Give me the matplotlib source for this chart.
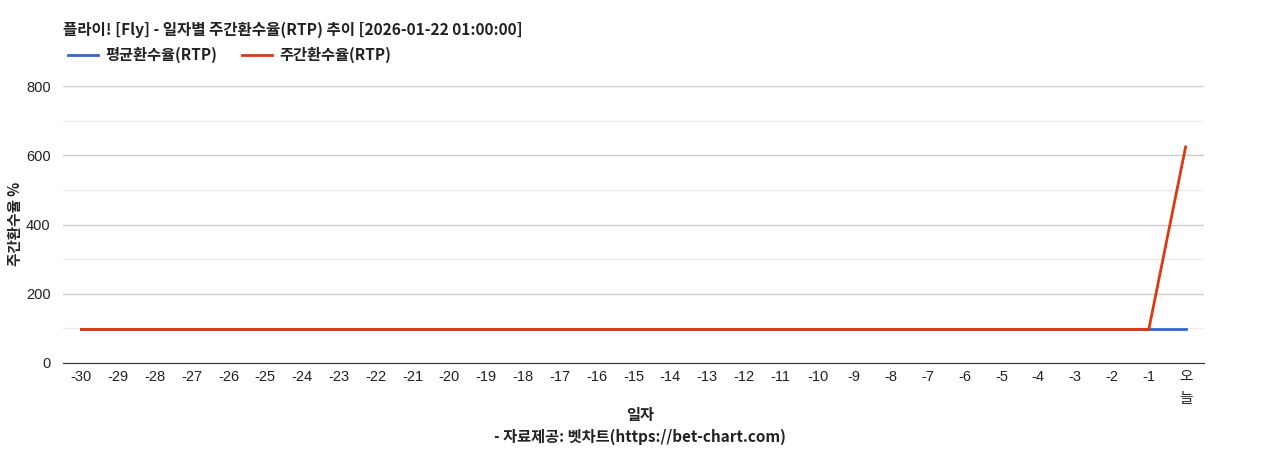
import matplotlib
matplotlib.use("Agg")
import matplotlib.pyplot as plt

plt.rcParams['font.family'] = ['Noto Sans CJK KR', 'DejaVu Sans']

# 데이터
days = [str(d) for d in range(-30, 0)] + ['오\n늘']
avg_rtp = [97] * 31
week_rtp = [97] * 30 + [624]

title = '플라이! [Fly] - 일자별 주간환수율(RTP) 추이 [2026-01-22 01:00:00]'
tick_font = ['Liberation Sans', 'Noto Sans CJK KR']

fig = plt.figure(figsize=(12.68, 4.5), dpi=100)
ax = fig.add_axes([63 / 1268, 1 - 363 / 450, (1204 - 63) / 1268, (363 - 86) / 450])

x = list(range(len(days)))
ax.plot(x, avg_rtp, color='#3366cc', lw=2, label='평균환수율(RTP)', zorder=3)
ax.plot(x, week_rtp, color='#dc3912', lw=2, label='주간환수율(RTP)', zorder=4)

ax.set_xlim(-0.5, len(days) - 0.5)
ax.set_ylim(0, 800)
ax.set_yticks([0, 200, 400, 600, 800])
ax.set_yticks([100, 300, 500, 700], minor=True)
ax.set_xticks(x)
ax.set_xticklabels(days, fontsize=10.5, color='#222', family=tick_font, linespacing=1.7, va='top')
for t in ax.get_yticklabels():
    t.set_family(tick_font)
ax.tick_params(axis='y', labelsize=10.5, colors='#222', length=0, pad=9)
ax.tick_params(axis='x', length=0, pad=5)
ax.tick_params(axis='y', which='minor', length=0)

ax.grid(axis='y', which='major', color='#cccccc', lw=1)
ax.grid(axis='y', which='minor', color='#ebebeb', lw=1)
ax.set_axisbelow(True)
for s in ['top', 'right', 'left']:
    ax.spines[s].set_visible(False)
ax.spines['bottom'].set_color('#333333')

fig.text(15 / 1268, 1 - 224 / 450, '주간환수율 %', fontsize=10.5, fontweight='bold',
         rotation=90, ha='center', va='center', color='#222')

fig.text(63 / 1268, 1 - 30 / 450, title, fontsize=11.2, fontweight='bold',
         va='center', ha='left', color='#222')
leg = fig.legend(loc='center left', bbox_to_anchor=(54 / 1268, 1 - 55 / 450), ncol=2,
                 frameon=False, fontsize=11, handlelength=2.0, columnspacing=1.6,
                 handletextpad=0.45)
for t in leg.get_texts():
    t.set_fontweight('bold')
    t.set_color('#222')

fig.text(640 / 1268, 1 - 415 / 450, '일자', fontsize=11, fontweight='bold', ha='center', va='center', color='#222')
fig.text(640 / 1268, 1 - 437 / 450, '- 자료제공: 벳차트(https://bet-chart.com)', fontsize=11,
         fontweight='bold', ha='center', va='center', color='#222')

fig.savefig('out.png', dpi=100)
